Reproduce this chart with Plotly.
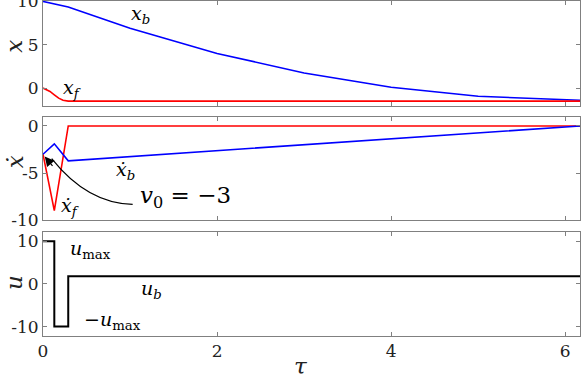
import plotly.graph_objects as go
from plotly.subplots import make_subplots

# position
tau_xb = [0, 0.13, 0.29, 1, 2, 3, 4, 5, 6.17]
xb = [10.0, 9.7, 9.35, 6.9, 4.0, 1.75, 0.1, -0.95, -1.4]
tau_xf = [0, 0.04, 0.08, 0.13, 0.18, 0.23, 0.29, 6.17]
xf = [0, -0.16, -0.39, -0.78, -1.16, -1.4, -1.5, -1.5]

# velocity
tau_v = [0, 0.13, 0.29, 6.17]
vb = [-3, -1.9, -3.7, 0]
vf = [-3, -9, 0, 0]

# control
tau_u = [0, 0.13, 0.29, 6.17]
u = [10, -10, 1.8, 1.8]

FONT = "DejaVu Serif"
FRAME = "#808080"

fig = make_subplots(rows=3, cols=1, shared_xaxes=True, vertical_spacing=0.035)

fig.add_trace(go.Scatter(x=tau_xb, y=xb, mode="lines", line=dict(color="#0000ff", width=1.6)), row=1, col=1)
fig.add_trace(go.Scatter(x=tau_xf, y=xf, mode="lines", line=dict(color="#ff0000", width=1.6)), row=1, col=1)
fig.add_trace(go.Scatter(x=tau_v, y=vf, mode="lines", line=dict(color="#ff0000", width=1.6)), row=2, col=1)
fig.add_trace(go.Scatter(x=tau_v, y=vb, mode="lines", line=dict(color="#0000ff", width=1.6)), row=2, col=1)
fig.add_trace(go.Scatter(x=tau_u, y=u, mode="lines", line=dict(color="black", width=2, shape="hv")), row=3, col=1)

axis_style = dict(
    showline=True, linecolor=FRAME, linewidth=1, mirror="allticks",
    ticks="inside", ticklen=4, tickcolor=FRAME, showgrid=False, zeroline=False,
    automargin=False, ticklabeloverflow="allow",
    tickfont=dict(family=FONT, size=17, color="#222"),
)
for r in (1, 2, 3):
    fig.update_xaxes(range=[0, 6.17], tickvals=[0, 2, 4, 6], row=r, col=1, **axis_style)
    fig.update_yaxes(row=r, col=1, **axis_style)

fig.update_xaxes(showticklabels=False, row=1, col=1)
fig.update_xaxes(showticklabels=False, row=2, col=1)

fig.update_yaxes(range=[-2.05, 10.05], tickvals=[0, 5, 10], row=1, col=1)
fig.update_yaxes(range=[-10, 1], tickvals=[-10, -5, 0], ticktext=["-10", "-5", "0"], row=2, col=1)
fig.update_yaxes(range=[-12.2, 12.2], tickvals=[-10, 0, 10], ticktext=["-10", "0", "10"], row=3, col=1)

# axis titles
title_font = dict(family=FONT, size=23, color="#222")
for txt, yp in [("<i>x</i>", 0.865), ("<i>ẋ</i>", 0.52), ("<i>u</i>", 0.16)]:
    fig.add_annotation(x=-0.053, y=yp, xref="paper", yref="paper", text=txt, showarrow=False,
                       textangle=-90, font=title_font, xanchor="center", yanchor="middle")
fig.add_annotation(x=0.48, y=-0.09, xref="paper", yref="paper", text="<i>τ</i>", showarrow=False,
                   font=title_font, xanchor="center", yanchor="middle")

lab = dict(family=FONT, size=19, color="black")
notes = [
    (1, 1.12, 8.5, "<i>x</i><sub><i>b</i></sub>"),
    (1, 0.33, 0.0, "<i>x</i><sub><i>f</i></sub>"),
    (2, 0.95, -4.75, "<i>ẋ</i><sub><i>b</i></sub>"),
    (2, 0.31, -8.55, "<i>ẋ</i><sub><i>f</i></sub>"),
    (3, 0.54, 8.0, "<i>u</i><sub>max</sub>"),
    (3, 1.25, -1.3, "<i>u</i><sub><i>b</i></sub>"),
    (3, 0.8, -8.6, "−<i>u</i><sub>max</sub>"),
]
for r, xv, yv, txt in notes:
    fig.add_annotation(x=xv, y=yv, text=txt, showarrow=False, font=lab,
                       xref="x" if r == 1 else f"x{r}", yref="y" if r == 1 else f"y{r}")

fig.add_annotation(x=1.64, y=-7.5, text="<i>v</i><sub>0</sub> = −3", showarrow=False,
                   font=dict(family=FONT, size=23, color="black"), xref="x2", yref="y2")

# curved arrow pointing at the initial velocity
fig.add_shape(type="path", path="M 1.03,-8.34 Q 0.51,-8.24 0.10,-3.48",
              xref="x2", yref="y2", line=dict(color="black", width=1.2))
fig.add_annotation(x=0.02, y=-3.24, xref="x2", yref="y2", text="", showarrow=True,
                   ax=9, ay=11, arrowhead=2, arrowsize=1.6, arrowwidth=1.2, arrowcolor="black")

fig.update_layout(
    width=581, height=375,
    margin=dict(l=43, r=1, t=1, b=39),
    plot_bgcolor="white", paper_bgcolor="white",
    showlegend=False,
)
fig.update_layout(
    yaxis=dict(domain=[0.687, 1]),
    yaxis2=dict(domain=[0.346, 0.655]),
    yaxis3=dict(domain=[0, 0.311]),
)

fig.write_html("out.html", config={"displayModeBar": False},
               post_script="document.body.style.margin='0px';")
